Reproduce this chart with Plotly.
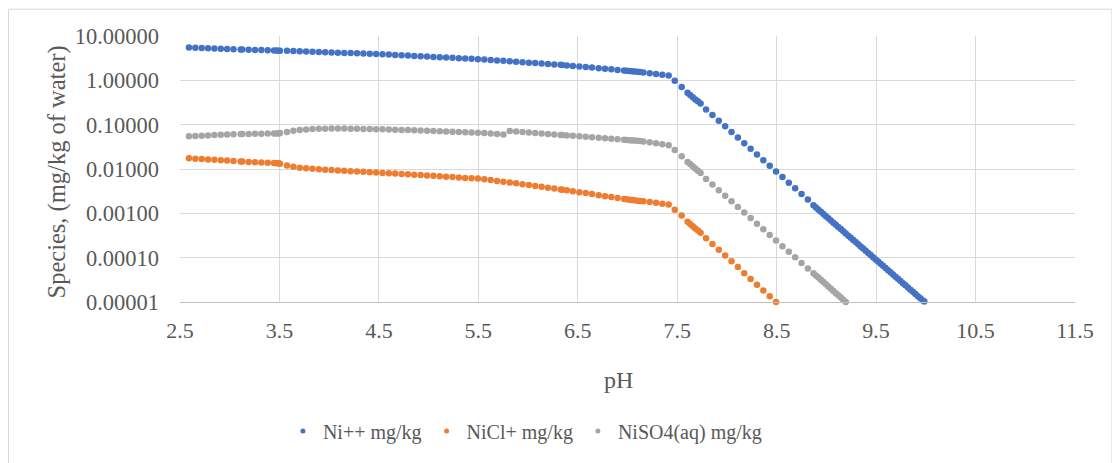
import plotly.graph_objects as go

# pH values shared by the three series
ph_main = [
    2.590, 2.654, 2.718, 2.782, 2.846, 2.910, 2.974, 3.038,
    3.110, 3.126, 3.190, 3.254, 3.318, 3.382, 3.446, 3.472, 3.495, 3.505,
    3.576, 3.640, 3.704, 3.768, 3.832, 3.896, 3.960, 4.024, 4.088, 4.152,
    4.216, 4.280, 4.344, 4.408, 4.472, 4.536, 4.600, 4.664, 4.728, 4.792,
    4.856, 4.920, 4.984, 5.048, 5.112, 5.176, 5.240, 5.304, 5.368, 5.432,
    5.496, 5.560, 5.624, 5.688, 5.752, 5.816, 5.880, 5.944, 6.008, 6.072,
    6.136, 6.200, 6.264, 6.328,
    6.344, 6.390, 6.450, 6.516, 6.580, 6.643, 6.710, 6.774, 6.837, 6.900,
    6.965, 6.990, 7.018, 7.045, 7.070, 7.100, 7.125, 7.160, 7.223, 7.287,
    7.350, 7.414,
    7.475, 7.545,
    7.604, 7.630, 7.656, 7.682, 7.708, 7.735,
    7.790, 7.854, 7.918, 7.982, 8.046, 8.110, 8.174, 8.238, 8.302, 8.366,
    8.430, 8.494, 8.558, 8.622, 8.686, 8.750, 8.814,
]

ph_tail = [
    8.870, 8.895, 8.920, 8.945, 8.970, 8.995, 9.020, 9.045, 9.070, 9.095,
    9.120, 9.145, 9.170, 9.195, 9.220, 9.245, 9.270, 9.295, 9.320, 9.345,
    9.370, 9.395, 9.420, 9.445, 9.470, 9.495, 9.520, 9.545, 9.570, 9.595,
    9.620, 9.645, 9.670, 9.695, 9.720, 9.745, 9.770, 9.795, 9.820, 9.845,
    9.870, 9.895, 9.920, 9.945, 9.970, 9.985,
]

# log10 of concentration, mg/kg of water
ni_log10 = [
    0.738, 0.733, 0.728, 0.723, 0.718, 0.713, 0.708, 0.703,
    0.697, 0.696, 0.691, 0.686, 0.682, 0.677, 0.673, 0.671, 0.670, 0.669,
    0.665, 0.660, 0.655, 0.650, 0.644, 0.639, 0.634, 0.629, 0.624, 0.619,
    0.614, 0.609, 0.603, 0.598, 0.593, 0.587, 0.580, 0.572, 0.565, 0.558,
    0.551, 0.544, 0.536, 0.529, 0.522, 0.515, 0.508, 0.500, 0.493, 0.486,
    0.478, 0.469, 0.459, 0.449, 0.439, 0.429, 0.419, 0.409, 0.399, 0.389,
    0.379, 0.369, 0.359, 0.349,
    0.346, 0.337, 0.326, 0.313, 0.300, 0.287, 0.274, 0.261, 0.248, 0.235,
    0.222, 0.217, 0.211, 0.205, 0.199, 0.193, 0.187, 0.178, 0.161, 0.144,
    0.127, 0.108,
    -0.007, -0.150,
    -0.280, -0.330, -0.380, -0.430, -0.470, -0.520,
    -0.657, -0.784, -0.911, -1.038, -1.165, -1.292, -1.419, -1.546, -1.673, -1.800,
    -1.927, -2.054, -2.181, -2.308, -2.435, -2.562, -2.689,
    -2.820, -2.869, -2.918, -2.966, -3.015, -3.064, -3.113, -3.161, -3.210, -3.259,
    -3.308, -3.356, -3.405, -3.454, -3.503, -3.551, -3.600, -3.649, -3.698, -3.746,
    -3.795, -3.844, -3.893, -3.941, -3.990, -4.039, -4.088, -4.136, -4.185, -4.234,
    -4.283, -4.331, -4.380, -4.429, -4.478, -4.526, -4.575, -4.624, -4.673, -4.721,
    -4.770, -4.819, -4.868, -4.916, -4.965, -4.990,
]

nicl_log10 = [
    -1.760, -1.769, -1.777, -1.786, -1.794, -1.803, -1.811, -1.820,
    -1.830, -1.832, -1.840, -1.848, -1.855, -1.861, -1.866, -1.868, -1.871, -1.880,
    -1.920, -1.950, -1.970, -1.985, -1.997, -2.007, -2.016, -2.024, -2.032, -2.040,
    -2.048, -2.056, -2.064, -2.072, -2.080, -2.088, -2.096, -2.104, -2.112, -2.120,
    -2.128, -2.136, -2.144, -2.153, -2.162, -2.172, -2.182, -2.192, -2.202, -2.209,
    -2.216, -2.232, -2.250, -2.268, -2.286, -2.305, -2.324, -2.343, -2.362, -2.382,
    -2.402, -2.422, -2.442, -2.462,
    -2.467, -2.482, -2.500, -2.522, -2.544, -2.566, -2.590, -2.612, -2.634, -2.655,
    -2.675, -2.683, -2.692, -2.700, -2.707, -2.715, -2.722, -2.730, -2.746, -2.764,
    -2.782, -2.800,
    -2.920, -3.050,
    -3.190, -3.240, -3.290, -3.340, -3.390, -3.440,
    -3.560, -3.690, -3.820, -3.950, -4.080, -4.210, -4.350, -4.480, -4.610, -4.740,
    -4.870, -5.000,
]

niso4_log10 = [
    -1.261, -1.255, -1.248, -1.242, -1.235, -1.229, -1.222, -1.216,
    -1.212, -1.211, -1.208, -1.205, -1.203, -1.201, -1.200, -1.199, -1.198, -1.190,
    -1.164, -1.140, -1.122, -1.110, -1.100, -1.094, -1.090, -1.088, -1.088, -1.089,
    -1.090, -1.092, -1.095, -1.098, -1.102, -1.106, -1.110, -1.114, -1.118, -1.122,
    -1.127, -1.132, -1.137, -1.142, -1.147, -1.152, -1.158, -1.164, -1.170, -1.176,
    -1.183, -1.190, -1.200, -1.210, -1.222, -1.142, -1.153, -1.164, -1.175, -1.186,
    -1.198, -1.209, -1.220, -1.231,
    -1.234, -1.242, -1.252, -1.264, -1.275, -1.286, -1.297, -1.308, -1.319, -1.330,
    -1.341, -1.345, -1.350, -1.355, -1.359, -1.364, -1.368, -1.377, -1.395, -1.418,
    -1.440, -1.465,
    -1.574, -1.710,
    -1.840, -1.890, -1.940, -1.990, -2.040, -2.090,
    -2.224, -2.350, -2.477, -2.603, -2.729, -2.856, -2.982, -3.108, -3.234, -3.361,
    -3.487, -3.613, -3.740, -3.866, -3.992, -4.119, -4.245,
    -4.350, -4.400, -4.450, -4.500, -4.550, -4.600, -4.650, -4.700, -4.750, -4.800,
    -4.850, -4.900, -4.950, -5.000,
]

series_names = ["Ni++ mg/kg", "NiCl+ mg/kg", "NiSO4(aq) mg/kg"]
series_colors = ["#4472C4", "#ED7D31", "#A5A5A5"]

x_tick_vals = [2.5, 3.5, 4.5, 5.5, 6.5, 7.5, 8.5, 9.5, 10.5, 11.5]
y_tick_vals = [1e-5, 1e-4, 1e-3, 1e-2, 1e-1, 1, 10]

full_ph = ph_main + ph_tail
series = [
    (full_ph[:len(ni_log10)], ni_log10),
    (full_ph[:len(nicl_log10)], nicl_log10),
    (full_ph[:len(niso4_log10)], niso4_log10),
]

FONT = "Liberation Serif"
TXT = "#595959"

fig = go.Figure()
for (xs, logs), name, color in zip(series, series_names, series_colors):
    fig.add_trace(go.Scatter(
        x=xs, y=[10 ** v for v in logs], mode="markers", name=name,
        marker=dict(color=color, size=6.5, line=dict(width=0)),
        cliponaxis=False, showlegend=False,
    ))
for name, color in zip(series_names, series_colors):
    fig.add_trace(go.Scatter(
        x=[None], y=[None], mode="markers", name=name,
        marker=dict(color=color, size=5), showlegend=True,
    ))

fig.update_layout(
    width=1112, height=455,
    margin=dict(l=172, r=45, t=28, b=159),
    paper_bgcolor="white", plot_bgcolor="white",
    font=dict(family=FONT, size=20, color=TXT),
    showlegend=True,
    legend=dict(
        orientation="h", x=0.115, xanchor="left", y=-0.485, yanchor="middle",
        font=dict(family=FONT, size=20, color=TXT),
        itemwidth=30, tracegroupgap=0,
    ),
    xaxis=dict(
        range=[2.5, 11.5], tickvals=x_tick_vals, ticktext=[str(v) for v in x_tick_vals],
        showgrid=True, gridcolor="#D9D9D9", gridwidth=1,
        showline=True, linecolor="#BFBFBF", linewidth=1,
        zeroline=False, ticks="", ticklabelstandoff=9,
        tickfont=dict(family=FONT, size=22, color=TXT),
    ),
    yaxis=dict(
        type="log", range=[-5, 1], tickvals=y_tick_vals, tickformat=".5f",
        showgrid=True, gridcolor="#D9D9D9", gridwidth=1,
        showline=False, zeroline=False, ticks="", ticklabelstandoff=20,
        tickfont=dict(family=FONT, size=22.5, color=TXT),
    ),
    annotations=[
        dict(text="Species, (mg/kg of water)", xref="paper", yref="paper",
             x=-0.1374, y=0.487, xanchor="center", yanchor="middle",
             textangle=-90, showarrow=False,
             font=dict(family=FONT, size=24.5, color=TXT)),
        dict(text="pH", xref="paper", yref="paper",
             x=0.49, y=-0.2948, xanchor="center", yanchor="middle",
             showarrow=False, font=dict(family=FONT, size=24, color=TXT)),
    ],
    shapes=[
        dict(type="rect", xref="paper", yref="paper",
             x0=-0.1916, x1=1.0413, y0=-0.66, y1=1.1007,
             line=dict(color="#D9D9D9", width=1), layer="below"),
    ],
)

fig.write_html("out.html")
